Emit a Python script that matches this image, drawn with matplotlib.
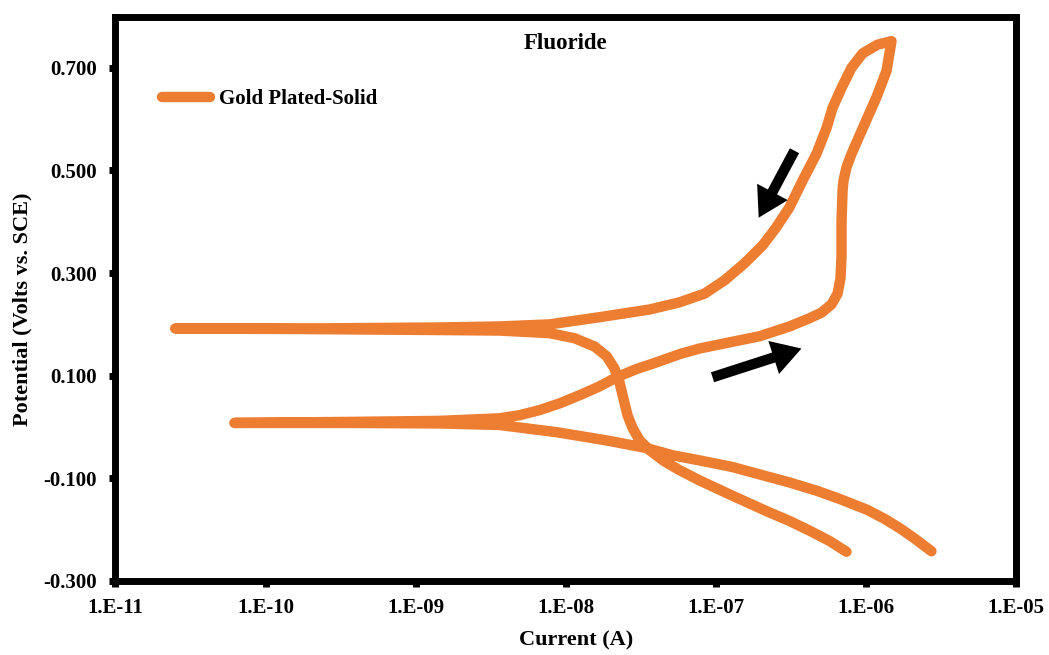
import numpy as np
import matplotlib
matplotlib.use("Agg")
import matplotlib.pyplot as plt
from matplotlib.ticker import FixedLocator, FixedFormatter, FormatStrFormatter, NullLocator

plt.rcParams['font.family'] = ['Liberation Serif', 'DejaVu Serif']
plt.rcParams['font.weight'] = 'bold'

# forward scan: cathodic branch (from -0.24 V up to the 0.01 V tail)
i_fwd_cat = [2.75e-6, 2.12e-6, 1.69e-6, 1.34e-6, 1.02e-6, 6.71e-7, 4.71e-7, 3.11e-7,
             2.19e-7, 1.30e-7, 7.82e-8, 5.16e-8, 3.47e-8, 1.87e-8, 8.71e-9, 3.63e-9,
             1.45e-9, 3.63e-10, 6.2e-11]
v_fwd_cat = [-0.242, -0.217, -0.197, -0.179, -0.161, -0.140, -0.124, -0.108,
             -0.096, -0.078, -0.065, -0.055, -0.041, -0.026, -0.010, 0.004,
             0.007, 0.008, 0.008]
# forward scan: anodic branch up to the vertex
i_fwd_an = [3.63e-10, 1.45e-9, 3.63e-9, 4.94e-9, 6.71e-9, 9.12e-9, 1.24e-8, 1.68e-8,
            2.19e-8, 2.97e-8, 4.04e-8, 5.75e-8, 7.82e-8, 1.24e-7, 1.97e-7, 3.11e-7,
            4.23e-7, 5.09e-7, 5.93e-7, 6.51e-7, 6.81e-7, 6.92e-7, 6.92e-7, 7.03e-7,
            7.13e-7, 7.46e-7, 8.06e-7, 9.12e-7, 1.03e-6, 1.18e-6, 1.38e-6, 1.49e-6]
v_fwd_an = [0.010, 0.012, 0.017, 0.023, 0.033, 0.046, 0.062, 0.079,
            0.097, 0.113, 0.126, 0.142, 0.153, 0.165, 0.177, 0.196,
            0.212, 0.223, 0.239, 0.260, 0.290, 0.334, 0.402, 0.461,
            0.480, 0.506, 0.532, 0.568, 0.603, 0.642, 0.694, 0.752]
# reverse scan: anodic branch down to the 0.19 V tail
i_rev_an = [1.20e-6, 9.55e-7, 8.06e-7, 6.92e-7, 6.03e-7, 5.50e-7, 4.72e-7, 3.80e-7,
            3.11e-7, 2.51e-7, 2.06e-7, 1.56e-7, 1.15e-7, 8.45e-8, 5.75e-8, 3.63e-8,
            1.68e-8, 7.82e-9, 3.63e-9, 1.45e-9, 1.69e-10, 2.5e-11]
v_rev_an = [0.745, 0.728, 0.700, 0.661, 0.622, 0.583, 0.533, 0.480,
            0.428, 0.387, 0.354, 0.319, 0.286, 0.260, 0.243, 0.229,
            0.214, 0.200, 0.196, 0.194, 0.192, 0.192]
# reverse scan: cathodic branch
i_rev_cat = [1.69e-10, 1.45e-9, 3.63e-9, 7.82e-9, 1.15e-8, 1.56e-8, 1.88e-8, 2.12e-8,
             2.29e-8, 2.43e-8, 2.59e-8, 2.80e-8, 3.12e-8, 3.63e-8, 4.57e-8, 5.75e-8,
             7.82e-8, 1.30e-7, 2.19e-7, 3.11e-7, 4.24e-7, 5.75e-7, 7.46e-7]
v_rev_cat = [0.191, 0.189, 0.188, 0.183, 0.173, 0.157, 0.138, 0.114,
             0.087, 0.056, 0.023, -0.002, -0.026, -0.045, -0.067, -0.084,
             -0.104, -0.134, -0.164, -0.183, -0.202, -0.222, -0.243]

current = np.array(i_fwd_cat + i_fwd_an + i_rev_an + i_rev_cat)
potential = np.array(v_fwd_cat + v_fwd_an + v_rev_an + v_rev_cat)

x_ticks = [1e-11, 1e-10, 1e-9, 1e-8, 1e-7, 1e-6, 1e-5]
x_labels = ['1.E-11', '1.E-10', '1.E-09', '1.E-08', '1.E-07', '1.E-06', '1.E-05']
y_ticks = [-0.3, -0.1, 0.1, 0.3, 0.5, 0.7]

fig = plt.figure(figsize=(10.49, 6.55), dpi=100)
ax = fig.add_axes([0.1101, 0.1130, 0.8580, 0.8618])

ax.plot(current, potential, color='#ED7D31', lw=7.5, solid_capstyle='round',
        solid_joinstyle='round', label='Gold Plated-Solid', zorder=2)

# scan direction arrows
arrow = dict(arrowstyle='simple,head_width=2.5,head_length=2.1,tail_width=0.75',
             color='black', mutation_scale=10, shrinkA=0, shrinkB=0, lw=0)
ax.annotate('', xy=(1.94e-7, 0.408), xytext=(3.36e-7, 0.5385), arrowprops=arrow)
ax.annotate('', xy=(3.74e-7, 0.153), xytext=(9.55e-8, 0.097), arrowprops=arrow)

ax.set_xscale('log')
ax.set_xlim(1e-11, 1e-5)
ax.set_ylim(-0.3, 0.8)
ax.xaxis.set_major_locator(FixedLocator(x_ticks))
ax.xaxis.set_major_formatter(FixedFormatter(x_labels))
ax.xaxis.set_minor_locator(NullLocator())
ax.yaxis.set_major_locator(FixedLocator(y_ticks))
ax.yaxis.set_major_formatter(FormatStrFormatter('%.3f'))

for s in ax.spines.values():
    s.set_linewidth(5)
ax.tick_params(direction='out', length=4.5, width=5, labelsize=15, pad=8)
ax.tick_params(axis='y', pad=9)

ax.text(0.5, 0.953, 'Fluoride', transform=ax.transAxes, ha='center', va='center',
        fontsize=16.5, fontweight='bold')

ax.set_xlabel('Current (A)', fontsize=16, fontweight='bold')
ax.xaxis.set_label_coords(0.5117, -0.087)
ax.set_ylabel('Potential (Volts vs. SCE)', fontsize=16, fontweight='bold')
ax.yaxis.set_label_coords(-0.0917, 0.482)

ax.legend(loc='center left', bbox_to_anchor=(0.0517, 0.8538), frameon=False,
          borderaxespad=0, borderpad=0, handlelength=2.3, handletextpad=0.45,
          prop={'size': 15, 'weight': 'bold'})

fig.savefig('out.png', dpi=100)
